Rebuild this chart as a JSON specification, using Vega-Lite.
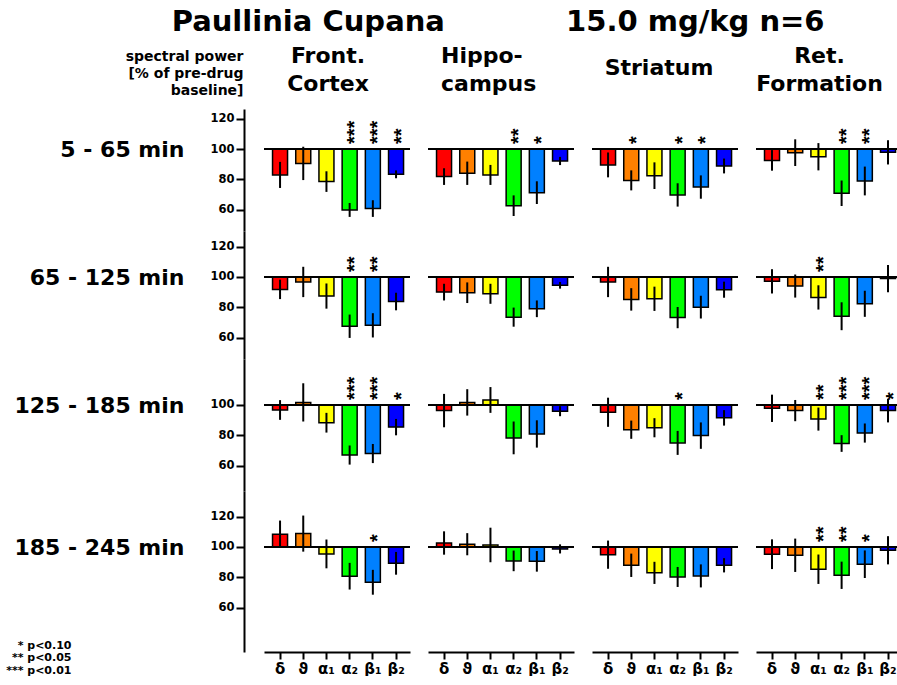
{
"$schema": "https://vega.github.io/schema/vega-lite/v6.json",
"padding": {"left": 5, "top": 8, "right": 0, "bottom": 0},
"background": "white",
"title": {"text": "Paullinia Cupana\u00a0\u00a0\u00a0\u00a0\u00a0\u00a0\u00a0\u00a0\u00a0\u00a0\u00a0 15.0 mg/kg n=6", "anchor": "start", "frame": "bounds", "dx": 166, "fontSize": 29, "offset": 8},
"datasets": {"d": [
{"t":1,"r":"FC","b":"δ","v":82.9,"e":8.6,"s":""},
{"t":1,"r":"FC","b":"ϑ","v":90.5,"e":11,"s":""},
{"t":1,"r":"FC","b":"α₁","v":78.5,"e":6.8,"s":""},
{"t":1,"r":"FC","b":"α₂","v":59.8,"e":4.6,"s":"***"},
{"t":1,"r":"FC","b":"β₁","v":60.7,"e":5.5,"s":"***"},
{"t":1,"r":"FC","b":"β₂","v":83.3,"e":2.6,"s":"**"},
{"t":1,"r":"HI","b":"δ","v":81.8,"e":5.5,"s":""},
{"t":1,"r":"HI","b":"ϑ","v":84,"e":7.7,"s":""},
{"t":1,"r":"HI","b":"α₁","v":82.9,"e":6.6,"s":""},
{"t":1,"r":"HI","b":"α₂","v":62.6,"e":6.8,"s":"**"},
{"t":1,"r":"HI","b":"β₁","v":71.2,"e":7.5,"s":"*"},
{"t":1,"r":"HI","b":"β₂","v":92.1,"e":2.7,"s":""},
{"t":1,"r":"ST","b":"δ","v":89.5,"e":8.2,"s":""},
{"t":1,"r":"ST","b":"ϑ","v":79.3,"e":6.6,"s":"*"},
{"t":1,"r":"ST","b":"α₁","v":82.4,"e":8.8,"s":""},
{"t":1,"r":"ST","b":"α₂","v":69.7,"e":7.7,"s":"*"},
{"t":1,"r":"ST","b":"β₁","v":74.9,"e":7.7,"s":"*"},
{"t":1,"r":"ST","b":"β₂","v":88.8,"e":4.9,"s":""},
{"t":1,"r":"RF","b":"δ","v":92.5,"e":6.8,"s":""},
{"t":1,"r":"RF","b":"ϑ","v":97.6,"e":8.8,"s":""},
{"t":1,"r":"RF","b":"α₁","v":94.9,"e":9,"s":""},
{"t":1,"r":"RF","b":"α₂","v":70.8,"e":8.4,"s":"**"},
{"t":1,"r":"RF","b":"β₁","v":78.9,"e":9.5,"s":"**"},
{"t":1,"r":"RF","b":"β₂","v":97.8,"e":8,"s":""},
{"t":2,"r":"FC","b":"δ","v":91.8,"e":6.4,"s":""},
{"t":2,"r":"FC","b":"ϑ","v":96.7,"e":10,"s":""},
{"t":2,"r":"FC","b":"α₁","v":87.4,"e":8.3,"s":""},
{"t":2,"r":"FC","b":"α₂","v":67.5,"e":7.7,"s":"**"},
{"t":2,"r":"FC","b":"β₁","v":68.1,"e":8,"s":"**"},
{"t":2,"r":"FC","b":"β₂","v":83.8,"e":5.8,"s":""},
{"t":2,"r":"HI","b":"δ","v":90,"e":5.5,"s":""},
{"t":2,"r":"HI","b":"ϑ","v":89.6,"e":6.8,"s":""},
{"t":2,"r":"HI","b":"α₁","v":88.9,"e":6.6,"s":""},
{"t":2,"r":"HI","b":"α₂","v":73.5,"e":6.3,"s":""},
{"t":2,"r":"HI","b":"β₁","v":79,"e":5.5,"s":""},
{"t":2,"r":"HI","b":"β₂","v":94.5,"e":2.2,"s":""},
{"t":2,"r":"ST","b":"δ","v":96.7,"e":10,"s":""},
{"t":2,"r":"ST","b":"ϑ","v":85.2,"e":7.4,"s":""},
{"t":2,"r":"ST","b":"α₁","v":85.6,"e":8,"s":""},
{"t":2,"r":"ST","b":"α₂","v":73.2,"e":7,"s":""},
{"t":2,"r":"ST","b":"β₁","v":80.1,"e":7.5,"s":""},
{"t":2,"r":"ST","b":"β₂","v":91.6,"e":5.3,"s":""},
{"t":2,"r":"RF","b":"δ","v":97.1,"e":8,"s":""},
{"t":2,"r":"RF","b":"ϑ","v":94,"e":7.6,"s":""},
{"t":2,"r":"RF","b":"α₁","v":86.5,"e":8,"s":"**"},
{"t":2,"r":"RF","b":"α₂","v":74.1,"e":9.2,"s":""},
{"t":2,"r":"RF","b":"β₁","v":82.3,"e":8.6,"s":""},
{"t":2,"r":"RF","b":"β₂","v":98.9,"e":9,"s":""},
{"t":3,"r":"FC","b":"δ","v":96.7,"e":6.5,"s":""},
{"t":3,"r":"FC","b":"ϑ","v":101.7,"e":12.6,"s":""},
{"t":3,"r":"FC","b":"α₁","v":88.3,"e":6.5,"s":""},
{"t":3,"r":"FC","b":"α₂","v":67,"e":6.3,"s":"***"},
{"t":3,"r":"FC","b":"β₁","v":68,"e":6.3,"s":"***"},
{"t":3,"r":"FC","b":"β₂","v":85.4,"e":5.4,"s":"*"},
{"t":3,"r":"HI","b":"δ","v":96.3,"e":11,"s":""},
{"t":3,"r":"HI","b":"ϑ","v":101.7,"e":8.7,"s":""},
{"t":3,"r":"HI","b":"α₁","v":103.3,"e":8.5,"s":""},
{"t":3,"r":"HI","b":"α₂","v":78.3,"e":10.8,"s":""},
{"t":3,"r":"HI","b":"β₁","v":80.9,"e":9,"s":""},
{"t":3,"r":"HI","b":"β₂","v":95.9,"e":3.3,"s":""},
{"t":3,"r":"ST","b":"δ","v":95.2,"e":9.6,"s":""},
{"t":3,"r":"ST","b":"ϑ","v":83.7,"e":6,"s":""},
{"t":3,"r":"ST","b":"α₁","v":85,"e":6.3,"s":""},
{"t":3,"r":"ST","b":"α₂","v":75,"e":7.9,"s":"*"},
{"t":3,"r":"ST","b":"β₁","v":79.8,"e":8.7,"s":""},
{"t":3,"r":"ST","b":"β₂","v":91.5,"e":5.1,"s":""},
{"t":3,"r":"RF","b":"δ","v":97.8,"e":9,"s":""},
{"t":3,"r":"RF","b":"ϑ","v":96.3,"e":7,"s":""},
{"t":3,"r":"RF","b":"α₁","v":90.7,"e":7.6,"s":"**"},
{"t":3,"r":"RF","b":"α₂","v":74.6,"e":5.5,"s":"***"},
{"t":3,"r":"RF","b":"β₁","v":81.5,"e":6.3,"s":"***"},
{"t":3,"r":"RF","b":"β₂","v":96.3,"e":7.8,"s":"*"},
{"t":4,"r":"FC","b":"δ","v":108.4,"e":9,"s":""},
{"t":4,"r":"FC","b":"ϑ","v":108.8,"e":11.9,"s":""},
{"t":4,"r":"FC","b":"α₁","v":95.4,"e":9.5,"s":""},
{"t":4,"r":"FC","b":"α₂","v":80.7,"e":8.8,"s":""},
{"t":4,"r":"FC","b":"β₁","v":76.7,"e":8.2,"s":"*"},
{"t":4,"r":"FC","b":"β₂","v":89.2,"e":7.5,"s":""},
{"t":4,"r":"HI","b":"δ","v":102.6,"e":7.7,"s":""},
{"t":4,"r":"HI","b":"ϑ","v":101.8,"e":7.3,"s":""},
{"t":4,"r":"HI","b":"α₁","v":101.3,"e":11.4,"s":""},
{"t":4,"r":"HI","b":"α₂","v":90.8,"e":6.8,"s":""},
{"t":4,"r":"HI","b":"β₁","v":90.5,"e":6.8,"s":""},
{"t":4,"r":"HI","b":"β₂","v":98.7,"e":3,"s":""},
{"t":4,"r":"ST","b":"δ","v":94.9,"e":9.3,"s":""},
{"t":4,"r":"ST","b":"ϑ","v":87.9,"e":7.7,"s":""},
{"t":4,"r":"ST","b":"α₁","v":82.9,"e":7.3,"s":""},
{"t":4,"r":"ST","b":"α₂","v":80.2,"e":6.6,"s":""},
{"t":4,"r":"ST","b":"β₁","v":80.9,"e":7.6,"s":""},
{"t":4,"r":"ST","b":"β₂","v":87.9,"e":4.7,"s":""},
{"t":4,"r":"RF","b":"δ","v":95.2,"e":9.8,"s":""},
{"t":4,"r":"RF","b":"ϑ","v":94.5,"e":11,"s":""},
{"t":4,"r":"RF","b":"α₁","v":85.3,"e":9.7,"s":"**"},
{"t":4,"r":"RF","b":"α₂","v":81.3,"e":9,"s":"**"},
{"t":4,"r":"RF","b":"β₁","v":88.6,"e":9.1,"s":"*"},
{"t":4,"r":"RF","b":"β₂","v":97.8,"e":9.3,"s":""}
]},
"data": {"name": "d"},
"columns": 4,
"spacing": {"row": 0, "column": 15},
"align": "each",
"bounds": "full",
"resolve": {"scale": {"x": "independent", "y": "independent"}},
"concat": [
{"width":146,"height":122,"transform":[{"filter":"datum.t==1 && datum.r=='FC'"}],
 "title":{"text":["Front.","Cortex"],"anchor":"middle","frame":"group","dx":-9,"offset":-47},
 "layer":[
  {"mark":{"type":"bar","stroke":"black","strokeWidth":1.5},"encoding":{
   "x":{"field":"b","type":"nominal","scale":{"domain":["δ","ϑ","α₁","α₂","β₁","β₂"],"paddingInner":0.353,"paddingOuter":0.323,"align":0.57},"axis":{"orient":"top","domain":false,"ticks":false,"labels":false,"title":["spectral power","[% of pre-drug","baseline]"],"titleX":-21,"titleY":-60,"titleAlign":"right","titleBaseline":"top","titleFontSize":14,"titleLineHeight":17}},
   "y":{"field":"v","type":"quantitative","scale":{"domain":[45.9,126.4],"nice":false,"zero":false},"axis":{"values":[60,80,100,120],"title":"5 - 65 min","titleY":40}},
   "y2":{"datum":100},
   "color":{"field":"b","type":"nominal","scale":{"domain":["δ","ϑ","α₁","α₂","β₁","β₂"],"range":["#ff0000","#ff8000","#ffff00","#00ff00","#0080ff","#0000ff"]},"legend":null}}},
  {"mark":{"type":"rule","color":"black","strokeWidth":2},"encoding":{"y":{"datum":100,"axis":{"values":[60,80,100,120],"title":"5 - 65 min","titleY":40}}}},
  {"mark":{"type":"errorbar","ticks":false,"color":"black","thickness":2},"encoding":{"x":{"field":"b","type":"nominal","axis":{"orient":"top","domain":false,"ticks":false,"labels":false,"title":["spectral power","[% of pre-drug","baseline]"],"titleX":-21,"titleY":-60,"titleAlign":"right","titleBaseline":"top","titleFontSize":14,"titleLineHeight":17}},"y":{"field":"v","type":"quantitative","axis":{"values":[60,80,100,120],"title":"5 - 65 min","titleY":40}},"yError":{"field":"e"}}},
  {"mark":{"type":"text","angle":270,"align":"left","baseline":"middle","font":"Liberation Sans","fontSize":20,"fontWeight":"bold","dx":5,"dy":5.6,"color":"black"},"encoding":{"x":{"field":"b","type":"nominal","axis":{"orient":"top","domain":false,"ticks":false,"labels":false,"title":["spectral power","[% of pre-drug","baseline]"],"titleX":-21,"titleY":-60,"titleAlign":"right","titleBaseline":"top","titleFontSize":14,"titleLineHeight":17}},"y":{"datum":100,"axis":{"values":[60,80,100,120],"title":"5 - 65 min","titleY":40}},"text":{"field":"s"}}}
 ]},
{"width":146,"height":122,"transform":[{"filter":"datum.t==1 && datum.r=='HI'"}],
 "title":{"text":["Hippo-","campus"],"anchor":"start","align":"left","frame":"group","dx":13,"offset":13},
 "layer":[
  {"mark":{"type":"bar","stroke":"black","strokeWidth":1.5},"encoding":{
   "x":{"field":"b","type":"nominal","scale":{"domain":["δ","ϑ","α₁","α₂","β₁","β₂"],"paddingInner":0.353,"paddingOuter":0.323,"align":0.57},"axis":null},
   "y":{"field":"v","type":"quantitative","scale":{"domain":[45.9,126.4],"nice":false,"zero":false},"axis":null},
   "y2":{"datum":100},
   "color":{"field":"b","type":"nominal","scale":{"domain":["δ","ϑ","α₁","α₂","β₁","β₂"],"range":["#ff0000","#ff8000","#ffff00","#00ff00","#0080ff","#0000ff"]},"legend":null}}},
  {"mark":{"type":"rule","color":"black","strokeWidth":2},"encoding":{"y":{"datum":100,"axis":null}}},
  {"mark":{"type":"errorbar","ticks":false,"color":"black","thickness":2},"encoding":{"x":{"field":"b","type":"nominal","axis":null},"y":{"field":"v","type":"quantitative","axis":null},"yError":{"field":"e"}}},
  {"mark":{"type":"text","angle":270,"align":"left","baseline":"middle","font":"Liberation Sans","fontSize":20,"fontWeight":"bold","dx":5,"dy":5.6,"color":"black"},"encoding":{"x":{"field":"b","type":"nominal","axis":null},"y":{"datum":100,"axis":null},"text":{"field":"s"}}}
 ]},
{"width":146,"height":122,"transform":[{"filter":"datum.t==1 && datum.r=='ST'"}],
 "title":{"text":"Striatum","anchor":"middle","frame":"group","dx":-6,"offset":29},
 "layer":[
  {"mark":{"type":"bar","stroke":"black","strokeWidth":1.5},"encoding":{
   "x":{"field":"b","type":"nominal","scale":{"domain":["δ","ϑ","α₁","α₂","β₁","β₂"],"paddingInner":0.353,"paddingOuter":0.323,"align":0.57},"axis":null},
   "y":{"field":"v","type":"quantitative","scale":{"domain":[45.9,126.4],"nice":false,"zero":false},"axis":null},
   "y2":{"datum":100},
   "color":{"field":"b","type":"nominal","scale":{"domain":["δ","ϑ","α₁","α₂","β₁","β₂"],"range":["#ff0000","#ff8000","#ffff00","#00ff00","#0080ff","#0000ff"]},"legend":null}}},
  {"mark":{"type":"rule","color":"black","strokeWidth":2},"encoding":{"y":{"datum":100,"axis":null}}},
  {"mark":{"type":"errorbar","ticks":false,"color":"black","thickness":2},"encoding":{"x":{"field":"b","type":"nominal","axis":null},"y":{"field":"v","type":"quantitative","axis":null},"yError":{"field":"e"}}},
  {"mark":{"type":"text","angle":270,"align":"left","baseline":"middle","font":"Liberation Sans","fontSize":20,"fontWeight":"bold","dx":5,"dy":5.6,"color":"black"},"encoding":{"x":{"field":"b","type":"nominal","axis":null},"y":{"datum":100,"axis":null},"text":{"field":"s"}}}
 ]},
{"width":143,"height":122,"transform":[{"filter":"datum.t==1 && datum.r=='RF'"}],
 "title":{"text":["Ret.","Formation"],"anchor":"middle","frame":"group","dx":-8,"offset":13},
 "layer":[
  {"mark":{"type":"bar","stroke":"black","strokeWidth":1.5},"encoding":{
   "x":{"field":"b","type":"nominal","scale":{"domain":["δ","ϑ","α₁","α₂","β₁","β₂"],"paddingInner":0.353,"paddingOuter":0.258,"align":0.71},"axis":null},
   "y":{"field":"v","type":"quantitative","scale":{"domain":[45.9,126.4],"nice":false,"zero":false},"axis":null},
   "y2":{"datum":100},
   "color":{"field":"b","type":"nominal","scale":{"domain":["δ","ϑ","α₁","α₂","β₁","β₂"],"range":["#ff0000","#ff8000","#ffff00","#00ff00","#0080ff","#0000ff"]},"legend":null}}},
  {"mark":{"type":"rule","color":"black","strokeWidth":2},"encoding":{"y":{"datum":100,"axis":null}}},
  {"mark":{"type":"errorbar","ticks":false,"color":"black","thickness":2},"encoding":{"x":{"field":"b","type":"nominal","axis":null},"y":{"field":"v","type":"quantitative","axis":null},"yError":{"field":"e"}}},
  {"mark":{"type":"text","angle":270,"align":"left","baseline":"middle","font":"Liberation Sans","fontSize":20,"fontWeight":"bold","dx":5,"dy":5.6,"color":"black"},"encoding":{"x":{"field":"b","type":"nominal","axis":null},"y":{"datum":100,"axis":null},"text":{"field":"s"}}}
 ]},
{"width":146,"height":128,"transform":[{"filter":"datum.t==2 && datum.r=='FC'"}],
 "layer":[
  {"mark":{"type":"bar","stroke":"black","strokeWidth":1.5},"encoding":{
   "x":{"field":"b","type":"nominal","scale":{"domain":["δ","ϑ","α₁","α₂","β₁","β₂"],"paddingInner":0.353,"paddingOuter":0.323,"align":0.57},"axis":null},
   "y":{"field":"v","type":"quantitative","scale":{"domain":[45.9,130.3],"nice":false,"zero":false},"axis":{"values":[60,80,100,120],"title":"65 - 125 min","titleY":46}},
   "y2":{"datum":100},
   "color":{"field":"b","type":"nominal","scale":{"domain":["δ","ϑ","α₁","α₂","β₁","β₂"],"range":["#ff0000","#ff8000","#ffff00","#00ff00","#0080ff","#0000ff"]},"legend":null}}},
  {"mark":{"type":"rule","color":"black","strokeWidth":2},"encoding":{"y":{"datum":100,"axis":{"values":[60,80,100,120],"title":"65 - 125 min","titleY":46}}}},
  {"mark":{"type":"errorbar","ticks":false,"color":"black","thickness":2},"encoding":{"x":{"field":"b","type":"nominal","axis":null},"y":{"field":"v","type":"quantitative","axis":{"values":[60,80,100,120],"title":"65 - 125 min","titleY":46}},"yError":{"field":"e"}}},
  {"mark":{"type":"text","angle":270,"align":"left","baseline":"middle","font":"Liberation Sans","fontSize":20,"fontWeight":"bold","dx":5,"dy":5.6,"color":"black"},"encoding":{"x":{"field":"b","type":"nominal","axis":null},"y":{"datum":100,"axis":{"values":[60,80,100,120],"title":"65 - 125 min","titleY":46}},"text":{"field":"s"}}}
 ]},
{"width":146,"height":128,"transform":[{"filter":"datum.t==2 && datum.r=='HI'"}],
 "layer":[
  {"mark":{"type":"bar","stroke":"black","strokeWidth":1.5},"encoding":{
   "x":{"field":"b","type":"nominal","scale":{"domain":["δ","ϑ","α₁","α₂","β₁","β₂"],"paddingInner":0.353,"paddingOuter":0.323,"align":0.57},"axis":null},
   "y":{"field":"v","type":"quantitative","scale":{"domain":[45.9,130.3],"nice":false,"zero":false},"axis":null},
   "y2":{"datum":100},
   "color":{"field":"b","type":"nominal","scale":{"domain":["δ","ϑ","α₁","α₂","β₁","β₂"],"range":["#ff0000","#ff8000","#ffff00","#00ff00","#0080ff","#0000ff"]},"legend":null}}},
  {"mark":{"type":"rule","color":"black","strokeWidth":2},"encoding":{"y":{"datum":100,"axis":null}}},
  {"mark":{"type":"errorbar","ticks":false,"color":"black","thickness":2},"encoding":{"x":{"field":"b","type":"nominal","axis":null},"y":{"field":"v","type":"quantitative","axis":null},"yError":{"field":"e"}}},
  {"mark":{"type":"text","angle":270,"align":"left","baseline":"middle","font":"Liberation Sans","fontSize":20,"fontWeight":"bold","dx":5,"dy":5.6,"color":"black"},"encoding":{"x":{"field":"b","type":"nominal","axis":null},"y":{"datum":100,"axis":null},"text":{"field":"s"}}}
 ]},
{"width":146,"height":128,"transform":[{"filter":"datum.t==2 && datum.r=='ST'"}],
 "layer":[
  {"mark":{"type":"bar","stroke":"black","strokeWidth":1.5},"encoding":{
   "x":{"field":"b","type":"nominal","scale":{"domain":["δ","ϑ","α₁","α₂","β₁","β₂"],"paddingInner":0.353,"paddingOuter":0.323,"align":0.57},"axis":null},
   "y":{"field":"v","type":"quantitative","scale":{"domain":[45.9,130.3],"nice":false,"zero":false},"axis":null},
   "y2":{"datum":100},
   "color":{"field":"b","type":"nominal","scale":{"domain":["δ","ϑ","α₁","α₂","β₁","β₂"],"range":["#ff0000","#ff8000","#ffff00","#00ff00","#0080ff","#0000ff"]},"legend":null}}},
  {"mark":{"type":"rule","color":"black","strokeWidth":2},"encoding":{"y":{"datum":100,"axis":null}}},
  {"mark":{"type":"errorbar","ticks":false,"color":"black","thickness":2},"encoding":{"x":{"field":"b","type":"nominal","axis":null},"y":{"field":"v","type":"quantitative","axis":null},"yError":{"field":"e"}}},
  {"mark":{"type":"text","angle":270,"align":"left","baseline":"middle","font":"Liberation Sans","fontSize":20,"fontWeight":"bold","dx":5,"dy":5.6,"color":"black"},"encoding":{"x":{"field":"b","type":"nominal","axis":null},"y":{"datum":100,"axis":null},"text":{"field":"s"}}}
 ]},
{"width":143,"height":128,"transform":[{"filter":"datum.t==2 && datum.r=='RF'"}],
 "layer":[
  {"mark":{"type":"bar","stroke":"black","strokeWidth":1.5},"encoding":{
   "x":{"field":"b","type":"nominal","scale":{"domain":["δ","ϑ","α₁","α₂","β₁","β₂"],"paddingInner":0.353,"paddingOuter":0.258,"align":0.71},"axis":null},
   "y":{"field":"v","type":"quantitative","scale":{"domain":[45.9,130.3],"nice":false,"zero":false},"axis":null},
   "y2":{"datum":100},
   "color":{"field":"b","type":"nominal","scale":{"domain":["δ","ϑ","α₁","α₂","β₁","β₂"],"range":["#ff0000","#ff8000","#ffff00","#00ff00","#0080ff","#0000ff"]},"legend":null}}},
  {"mark":{"type":"rule","color":"black","strokeWidth":2},"encoding":{"y":{"datum":100,"axis":null}}},
  {"mark":{"type":"errorbar","ticks":false,"color":"black","thickness":2},"encoding":{"x":{"field":"b","type":"nominal","axis":null},"y":{"field":"v","type":"quantitative","axis":null},"yError":{"field":"e"}}},
  {"mark":{"type":"text","angle":270,"align":"left","baseline":"middle","font":"Liberation Sans","fontSize":20,"fontWeight":"bold","dx":5,"dy":5.6,"color":"black"},"encoding":{"x":{"field":"b","type":"nominal","axis":null},"y":{"datum":100,"axis":null},"text":{"field":"s"}}}
 ]},
{"width":146,"height":132,"transform":[{"filter":"datum.t==3 && datum.r=='FC'"}],
 "layer":[
  {"mark":{"type":"bar","stroke":"black","strokeWidth":1.5},"encoding":{
   "x":{"field":"b","type":"nominal","scale":{"domain":["δ","ϑ","α₁","α₂","β₁","β₂"],"paddingInner":0.353,"paddingOuter":0.323,"align":0.57},"axis":null},
   "y":{"field":"v","type":"quantitative","scale":{"domain":[43.3,130.3],"nice":false,"zero":false},"axis":{"values":[60,80,100],"title":"125 - 185 min","titleY":46}},
   "y2":{"datum":100},
   "color":{"field":"b","type":"nominal","scale":{"domain":["δ","ϑ","α₁","α₂","β₁","β₂"],"range":["#ff0000","#ff8000","#ffff00","#00ff00","#0080ff","#0000ff"]},"legend":null}}},
  {"mark":{"type":"rule","color":"black","strokeWidth":2},"encoding":{"y":{"datum":100,"axis":{"values":[60,80,100],"title":"125 - 185 min","titleY":46}}}},
  {"mark":{"type":"errorbar","ticks":false,"color":"black","thickness":2},"encoding":{"x":{"field":"b","type":"nominal","axis":null},"y":{"field":"v","type":"quantitative","axis":{"values":[60,80,100],"title":"125 - 185 min","titleY":46}},"yError":{"field":"e"}}},
  {"mark":{"type":"text","angle":270,"align":"left","baseline":"middle","font":"Liberation Sans","fontSize":20,"fontWeight":"bold","dx":5,"dy":5.6,"color":"black"},"encoding":{"x":{"field":"b","type":"nominal","axis":null},"y":{"datum":100,"axis":{"values":[60,80,100],"title":"125 - 185 min","titleY":46}},"text":{"field":"s"}}}
 ]},
{"width":146,"height":132,"transform":[{"filter":"datum.t==3 && datum.r=='HI'"}],
 "layer":[
  {"mark":{"type":"bar","stroke":"black","strokeWidth":1.5},"encoding":{
   "x":{"field":"b","type":"nominal","scale":{"domain":["δ","ϑ","α₁","α₂","β₁","β₂"],"paddingInner":0.353,"paddingOuter":0.323,"align":0.57},"axis":null},
   "y":{"field":"v","type":"quantitative","scale":{"domain":[43.3,130.3],"nice":false,"zero":false},"axis":null},
   "y2":{"datum":100},
   "color":{"field":"b","type":"nominal","scale":{"domain":["δ","ϑ","α₁","α₂","β₁","β₂"],"range":["#ff0000","#ff8000","#ffff00","#00ff00","#0080ff","#0000ff"]},"legend":null}}},
  {"mark":{"type":"rule","color":"black","strokeWidth":2},"encoding":{"y":{"datum":100,"axis":null}}},
  {"mark":{"type":"errorbar","ticks":false,"color":"black","thickness":2},"encoding":{"x":{"field":"b","type":"nominal","axis":null},"y":{"field":"v","type":"quantitative","axis":null},"yError":{"field":"e"}}},
  {"mark":{"type":"text","angle":270,"align":"left","baseline":"middle","font":"Liberation Sans","fontSize":20,"fontWeight":"bold","dx":5,"dy":5.6,"color":"black"},"encoding":{"x":{"field":"b","type":"nominal","axis":null},"y":{"datum":100,"axis":null},"text":{"field":"s"}}}
 ]},
{"width":146,"height":132,"transform":[{"filter":"datum.t==3 && datum.r=='ST'"}],
 "layer":[
  {"mark":{"type":"bar","stroke":"black","strokeWidth":1.5},"encoding":{
   "x":{"field":"b","type":"nominal","scale":{"domain":["δ","ϑ","α₁","α₂","β₁","β₂"],"paddingInner":0.353,"paddingOuter":0.323,"align":0.57},"axis":null},
   "y":{"field":"v","type":"quantitative","scale":{"domain":[43.3,130.3],"nice":false,"zero":false},"axis":null},
   "y2":{"datum":100},
   "color":{"field":"b","type":"nominal","scale":{"domain":["δ","ϑ","α₁","α₂","β₁","β₂"],"range":["#ff0000","#ff8000","#ffff00","#00ff00","#0080ff","#0000ff"]},"legend":null}}},
  {"mark":{"type":"rule","color":"black","strokeWidth":2},"encoding":{"y":{"datum":100,"axis":null}}},
  {"mark":{"type":"errorbar","ticks":false,"color":"black","thickness":2},"encoding":{"x":{"field":"b","type":"nominal","axis":null},"y":{"field":"v","type":"quantitative","axis":null},"yError":{"field":"e"}}},
  {"mark":{"type":"text","angle":270,"align":"left","baseline":"middle","font":"Liberation Sans","fontSize":20,"fontWeight":"bold","dx":5,"dy":5.6,"color":"black"},"encoding":{"x":{"field":"b","type":"nominal","axis":null},"y":{"datum":100,"axis":null},"text":{"field":"s"}}}
 ]},
{"width":143,"height":132,"transform":[{"filter":"datum.t==3 && datum.r=='RF'"}],
 "layer":[
  {"mark":{"type":"bar","stroke":"black","strokeWidth":1.5},"encoding":{
   "x":{"field":"b","type":"nominal","scale":{"domain":["δ","ϑ","α₁","α₂","β₁","β₂"],"paddingInner":0.353,"paddingOuter":0.258,"align":0.71},"axis":null},
   "y":{"field":"v","type":"quantitative","scale":{"domain":[43.3,130.3],"nice":false,"zero":false},"axis":null},
   "y2":{"datum":100},
   "color":{"field":"b","type":"nominal","scale":{"domain":["δ","ϑ","α₁","α₂","β₁","β₂"],"range":["#ff0000","#ff8000","#ffff00","#00ff00","#0080ff","#0000ff"]},"legend":null}}},
  {"mark":{"type":"rule","color":"black","strokeWidth":2},"encoding":{"y":{"datum":100,"axis":null}}},
  {"mark":{"type":"errorbar","ticks":false,"color":"black","thickness":2},"encoding":{"x":{"field":"b","type":"nominal","axis":null},"y":{"field":"v","type":"quantitative","axis":null},"yError":{"field":"e"}}},
  {"mark":{"type":"text","angle":270,"align":"left","baseline":"middle","font":"Liberation Sans","fontSize":20,"fontWeight":"bold","dx":5,"dy":5.6,"color":"black"},"encoding":{"x":{"field":"b","type":"nominal","axis":null},"y":{"datum":100,"axis":null},"text":{"field":"s"}}}
 ]},
{"width":146,"height":161,"transform":[{"filter":"datum.t==4 && datum.r=='FC'"}],
 "layer":[
  {"mark":{"type":"bar","stroke":"black","strokeWidth":1.5},"encoding":{
   "x":{"field":"b","type":"nominal","scale":{"domain":["δ","ϑ","α₁","α₂","β₁","β₂"],"paddingInner":0.353,"paddingOuter":0.323,"align":0.57},"axis":{"title":["* p<0.10","** p<0.05","*** p<0.01"],"titleX":-193,"titleY":-13,"titleAlign":"right","titleBaseline":"top","titleFontSize":11,"titleLineHeight":12.5}},
   "y":{"field":"v","type":"quantitative","scale":{"domain":[30.7,136.9],"nice":false,"zero":false},"axis":{"values":[60,80,100,120],"title":"185 - 245 min","titleY":56}},
   "y2":{"datum":100},
   "color":{"field":"b","type":"nominal","scale":{"domain":["δ","ϑ","α₁","α₂","β₁","β₂"],"range":["#ff0000","#ff8000","#ffff00","#00ff00","#0080ff","#0000ff"]},"legend":null}}},
  {"mark":{"type":"rule","color":"black","strokeWidth":2},"encoding":{"y":{"datum":100,"axis":{"values":[60,80,100,120],"title":"185 - 245 min","titleY":56}}}},
  {"mark":{"type":"errorbar","ticks":false,"color":"black","thickness":2},"encoding":{"x":{"field":"b","type":"nominal","axis":{"title":["* p<0.10","** p<0.05","*** p<0.01"],"titleX":-193,"titleY":-13,"titleAlign":"right","titleBaseline":"top","titleFontSize":11,"titleLineHeight":12.5}},"y":{"field":"v","type":"quantitative","axis":{"values":[60,80,100,120],"title":"185 - 245 min","titleY":56}},"yError":{"field":"e"}}},
  {"mark":{"type":"text","angle":270,"align":"left","baseline":"middle","font":"Liberation Sans","fontSize":20,"fontWeight":"bold","dx":5,"dy":5.6,"color":"black"},"encoding":{"x":{"field":"b","type":"nominal","axis":{"title":["* p<0.10","** p<0.05","*** p<0.01"],"titleX":-193,"titleY":-13,"titleAlign":"right","titleBaseline":"top","titleFontSize":11,"titleLineHeight":12.5}},"y":{"datum":100,"axis":{"values":[60,80,100,120],"title":"185 - 245 min","titleY":56}},"text":{"field":"s"}}}
 ]},
{"width":146,"height":161,"transform":[{"filter":"datum.t==4 && datum.r=='HI'"}],
 "layer":[
  {"mark":{"type":"bar","stroke":"black","strokeWidth":1.5},"encoding":{
   "x":{"field":"b","type":"nominal","scale":{"domain":["δ","ϑ","α₁","α₂","β₁","β₂"],"paddingInner":0.353,"paddingOuter":0.323,"align":0.57},"axis":{"title":null}},
   "y":{"field":"v","type":"quantitative","scale":{"domain":[30.7,136.9],"nice":false,"zero":false},"axis":null},
   "y2":{"datum":100},
   "color":{"field":"b","type":"nominal","scale":{"domain":["δ","ϑ","α₁","α₂","β₁","β₂"],"range":["#ff0000","#ff8000","#ffff00","#00ff00","#0080ff","#0000ff"]},"legend":null}}},
  {"mark":{"type":"rule","color":"black","strokeWidth":2},"encoding":{"y":{"datum":100,"axis":null}}},
  {"mark":{"type":"errorbar","ticks":false,"color":"black","thickness":2},"encoding":{"x":{"field":"b","type":"nominal","axis":{"title":null}},"y":{"field":"v","type":"quantitative","axis":null},"yError":{"field":"e"}}},
  {"mark":{"type":"text","angle":270,"align":"left","baseline":"middle","font":"Liberation Sans","fontSize":20,"fontWeight":"bold","dx":5,"dy":5.6,"color":"black"},"encoding":{"x":{"field":"b","type":"nominal","axis":{"title":null}},"y":{"datum":100,"axis":null},"text":{"field":"s"}}}
 ]},
{"width":146,"height":161,"transform":[{"filter":"datum.t==4 && datum.r=='ST'"}],
 "layer":[
  {"mark":{"type":"bar","stroke":"black","strokeWidth":1.5},"encoding":{
   "x":{"field":"b","type":"nominal","scale":{"domain":["δ","ϑ","α₁","α₂","β₁","β₂"],"paddingInner":0.353,"paddingOuter":0.323,"align":0.57},"axis":{"title":null}},
   "y":{"field":"v","type":"quantitative","scale":{"domain":[30.7,136.9],"nice":false,"zero":false},"axis":null},
   "y2":{"datum":100},
   "color":{"field":"b","type":"nominal","scale":{"domain":["δ","ϑ","α₁","α₂","β₁","β₂"],"range":["#ff0000","#ff8000","#ffff00","#00ff00","#0080ff","#0000ff"]},"legend":null}}},
  {"mark":{"type":"rule","color":"black","strokeWidth":2},"encoding":{"y":{"datum":100,"axis":null}}},
  {"mark":{"type":"errorbar","ticks":false,"color":"black","thickness":2},"encoding":{"x":{"field":"b","type":"nominal","axis":{"title":null}},"y":{"field":"v","type":"quantitative","axis":null},"yError":{"field":"e"}}},
  {"mark":{"type":"text","angle":270,"align":"left","baseline":"middle","font":"Liberation Sans","fontSize":20,"fontWeight":"bold","dx":5,"dy":5.6,"color":"black"},"encoding":{"x":{"field":"b","type":"nominal","axis":{"title":null}},"y":{"datum":100,"axis":null},"text":{"field":"s"}}}
 ]},
{"width":143,"height":161,"transform":[{"filter":"datum.t==4 && datum.r=='RF'"}],
 "layer":[
  {"mark":{"type":"bar","stroke":"black","strokeWidth":1.5},"encoding":{
   "x":{"field":"b","type":"nominal","scale":{"domain":["δ","ϑ","α₁","α₂","β₁","β₂"],"paddingInner":0.353,"paddingOuter":0.258,"align":0.71},"axis":{"title":null}},
   "y":{"field":"v","type":"quantitative","scale":{"domain":[30.7,136.9],"nice":false,"zero":false},"axis":null},
   "y2":{"datum":100},
   "color":{"field":"b","type":"nominal","scale":{"domain":["δ","ϑ","α₁","α₂","β₁","β₂"],"range":["#ff0000","#ff8000","#ffff00","#00ff00","#0080ff","#0000ff"]},"legend":null}}},
  {"mark":{"type":"rule","color":"black","strokeWidth":2},"encoding":{"y":{"datum":100,"axis":null}}},
  {"mark":{"type":"errorbar","ticks":false,"color":"black","thickness":2},"encoding":{"x":{"field":"b","type":"nominal","axis":{"title":null}},"y":{"field":"v","type":"quantitative","axis":null},"yError":{"field":"e"}}},
  {"mark":{"type":"text","angle":270,"align":"left","baseline":"middle","font":"Liberation Sans","fontSize":20,"fontWeight":"bold","dx":5,"dy":5.6,"color":"black"},"encoding":{"x":{"field":"b","type":"nominal","axis":{"title":null}},"y":{"datum":100,"axis":null},"text":{"field":"s"}}}
 ]}
],
"config": {
 "view": {"stroke": null},
 "font": "DejaVu Sans",
 "axis": {"domainColor":"black","domainWidth":2,"tickColor":"black","tickWidth":2,"labelColor":"black","labelFont":"DejaVu Sans","labelFontWeight":"bold","titleColor":"black","titleFont":"DejaVu Sans","titleFontWeight":"bold","grid":false},
 "axisY": {"offset":20,"tickSize":8,"labelFontSize":11.5,"labelPadding":2,"titleAngle":0,"titleAlign":"right","titleBaseline":"middle","titleFontSize":22,"titleX":-60},
 "axisX": {"tickSize":7,"labelFontSize":15,"labelPadding":2,"labelAngle":0},
 "title": {"font":"DejaVu Sans","fontWeight":"bold","fontSize":22,"color":"black","lineHeight":28},
 "text": {"font":"DejaVu Sans"}
}
}
